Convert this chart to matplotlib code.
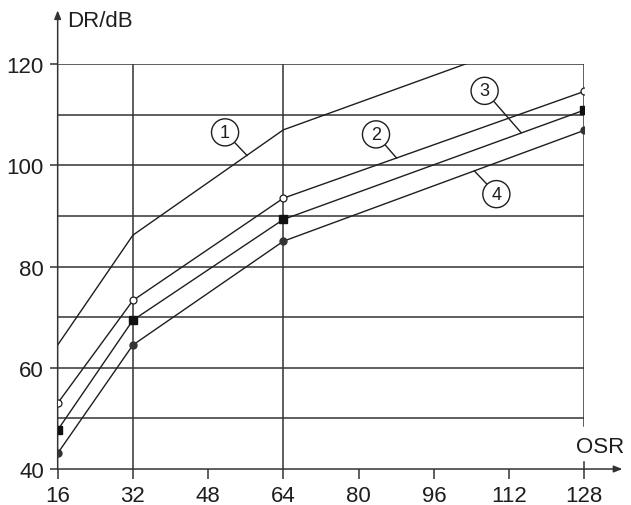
import matplotlib.pyplot as plt

plt.rcParams['font.family'] = ['Liberation Sans', 'DejaVu Sans']

# OSR values and dynamic range curves (dB)
osr = [16, 32, 64, 128]
dr_1 = [64.5, 86.2, 107.0, 128.5]   # ideal curve, runs past the top
dr_2 = [53.0, 73.3, 93.5, 114.6]    # open circles
dr_3 = [47.7, 69.4, 89.3, 110.9]    # squares
dr_4 = [43.1, 64.5, 85.0, 106.9]    # filled circles

x_ticks = [16, 32, 48, 64, 80, 96, 112, 128]
y_ticks = [40, 60, 80, 100, 120]
grid_y = [50, 60, 70, 80, 90, 100, 110, 120]
grid_x = [32, 64]

# circled curve labels: (text, label pos, point on curve)
labels = [
    ('1', (51.6, 106.5), (56.3, 101.9)),
    ('2', (83.7, 106.1), (88.1, 101.4)),
    ('3', (106.8, 114.7), (114.6, 106.4)),
    ('4', (109.3, 94.3), (104.6, 98.9)),
]

ink = '#1e1e1e'
grid_col = '#333333'

fig = plt.figure(figsize=(6.31, 5.06), dpi=100)
ax = fig.add_axes([0.0914, 0.0711, 0.8346, 0.8004])
ax.set_xlim(16, 128)
ax.set_ylim(40, 120)
for s in ax.spines.values():
    s.set_visible(False)

# grid
for y in grid_y:
    ax.axhline(y, color=grid_col, lw=1.1, zorder=1)
for x in grid_x:
    ax.axvline(x, color=grid_col, lw=1.1, zorder=1)
ax.plot([128, 128], [48.5, 120], color=grid_col, lw=1.1, zorder=1)
ax.plot([128, 128], [40, 41.4], color=grid_col, lw=1.1, clip_on=False)

# axes with arrows
arrow = dict(arrowstyle='-|>,head_length=0.5,head_width=0.2', lw=1.1,
             color=grid_col, shrinkA=0, shrinkB=0, mutation_scale=10)
ax.annotate('', xy=(16, 130.6), xytext=(16, 40), arrowprops=arrow,
            annotation_clip=False)
ax.annotate('', xy=(136.1, 40), xytext=(16, 40), arrowprops=arrow,
            annotation_clip=False)

ax.set_xticks(x_ticks)
ax.set_yticks(y_ticks)
ax.tick_params(axis='x', direction='out', length=7.2, width=1.1,
               color=grid_col, pad=4.0, labelsize=16, labelcolor=ink)
ax.tick_params(axis='y', direction='out', length=5.5, width=1.1,
               color=grid_col, pad=4.5, labelsize=16, labelcolor=ink)

# curves
ax.plot(osr, dr_1, color=ink, lw=1.0, zorder=3)
ax.plot(osr, dr_2, color=ink, lw=1.0, marker='o', ms=5, mfc='white',
        mec=ink, mew=0.9, zorder=3)
ax.plot(osr, dr_3, color=ink, lw=1.0, marker='s', ms=5.5, mfc='#111111',
        mec='#111111', zorder=3)
ax.plot(osr, dr_4, color=ink, lw=1.0, marker='o', ms=5, mfc='#333333',
        mec='#333333', zorder=3)

for txt, pos, pt in labels:
    ax.annotate(txt, xy=pt, xytext=pos, ha='center', va='center',
                fontsize=13, color=ink, zorder=4,
                bbox=dict(boxstyle='circle,pad=0.28', fc='white', ec=ink, lw=1.0),
                arrowprops=dict(arrowstyle='-', color=ink, lw=1.0,
                                shrinkA=0, shrinkB=0))

ax.text(131.4, 44.4, 'OSR', ha='center', va='center', fontsize=16,
        color=ink, clip_on=False)
ax.text(18, 128.6, 'DR/dB', ha='left', va='center', fontsize=16,
        color=ink, clip_on=False)

fig.savefig('out.png', dpi=100)
